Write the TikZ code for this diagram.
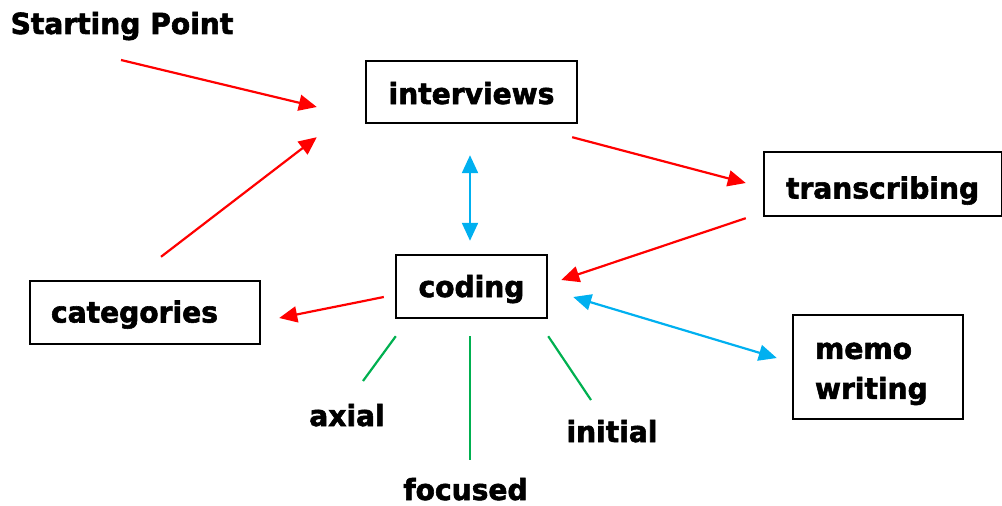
\documentclass[tikz,border=0pt]{standalone}
\usepackage{fontspec}
\newfontfamily\heavyfont{DejaVu Sans Bold}[FakeBold=2, FakeStretch=0.97]
\usetikzlibrary{arrows.meta,calc}
\definecolor{myred}{RGB}{255,0,0}
\definecolor{myblue}{RGB}{0,176,240}
\definecolor{mygreen}{RGB}{0,176,80}
\tikzset{
  txt/.style={font=\heavyfont\fontsize{29}{40}\selectfont},
  lbl/.style={txt, inner sep=0pt, anchor=base},
  box/.style={txt, draw, line width=2.4pt, inner ysep=0pt},
  redarrow/.style={draw=myred, line width=2.2pt, -{Triangle[length=18pt,width=16pt]}},
  bluearrow/.style={draw=myblue, line width=2.2pt, {Triangle[length=18pt,width=16pt]}-{Triangle[length=18pt,width=16pt]}},
  greenline/.style={draw=mygreen, line width=2.2pt},
}
\begin{document}
\begin{tikzpicture}[x=1pt,y=-1pt]
\useasboundingbox (0,0) rectangle (1002,506);
% boxes
\node[box, minimum width=211pt, minimum height=62pt, text height=24pt, text depth=0pt, align=center] (interviews) at (471.5,92) {interviews};
\node[box, text width=194pt, inner xsep=22pt, minimum height=64pt, text height=29pt, text depth=0pt, align=left] (transcribing) at (883,184) {transcribing};
\node[box, minimum width=151pt, minimum height=63pt, text height=21pt, text depth=0pt, align=center] (coding) at (471.5,286.5) {coding};
\node[box, text width=188pt, inner xsep=21pt, minimum height=63pt, text height=20pt, text depth=0pt, align=left] (categories) at (145,312.5) {categories};
\node[box, text width=126pt, inner xsep=22pt, minimum height=104pt, align=left] (memo) at (878,367) {\rule{0pt}{30pt}memo\\writing};
% labels
\node[lbl] (start) at (122,34) {Starting Point};
\node[lbl] (axial) at (347,426) {axial};
\node[lbl] (focused) at (465.5,500) {focused};
\node[lbl] (initial) at (612,442) {initial};
% red arrows
\draw[redarrow] ([shift={(-1,26)}]start.base) -- ([shift={(-48,15)}]interviews.west);
\draw[redarrow] ([shift={(16,-23)}]categories.north) -- ([shift={(-48,13)}]interviews.south west);
\draw[redarrow] ([shift={(-6,13)}]interviews.south east) -- ([shift={(-17,-1)}]transcribing.west);
\draw[redarrow] ([shift={(-17,1)}]transcribing.south west) -- ([shift={(13,-6.5)}]coding.east);
\draw[redarrow] ([shift={(-11,10.5)}]coding.west) -- ([shift={(18,5.5)}]categories.east);
% blue arrows
\draw[bluearrow] ([shift={(-1.5,31)}]interviews.south) -- ([shift={(-1.5,-13)}]coding.north);
\draw[bluearrow] ([shift={(25,10.5)}]coding.east) -- ([shift={(-15,-9)}]memo.west);
% green lines
\draw[greenline] ([shift={(1,17)}]coding.south west) -- ([shift={(16,-45)}]axial.base);
\draw[greenline] ([shift={(-1.5,17)}]coding.south) -- ([shift={(4.5,-40)}]focused.base);
\draw[greenline] ([shift={(0,17)}]coding.south east) -- ([shift={(-21,-42)}]initial.base);
\end{tikzpicture}
\end{document}
